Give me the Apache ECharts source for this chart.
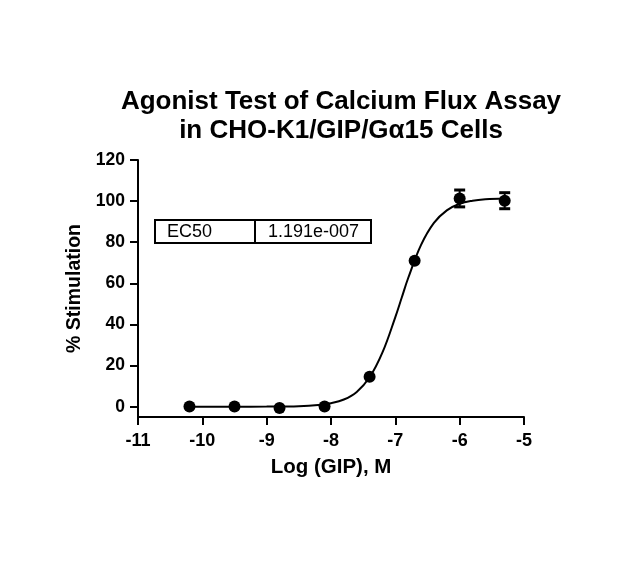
<!DOCTYPE html>
<html>
<head>
<meta charset="utf-8">
<script src="https://cdn.jsdelivr.net/npm/echarts@6/dist/echarts.min.js"></script>
<style>html,body{margin:0;padding:0;background:#fff}#c{width:639px;height:572px}</style>
</head>
<body>
<div id="c"></div>
<script>
var logDose = [-10.2, -9.5, -8.8, -8.1, -7.4, -6.7, -6.0, -5.3];
var stimulation = [0.1, 0.1, -0.6, 0.1, 14.6, 71.0, 101.3, 100.2];
var errors = [0, 0, 0, 0, 0, 0, 4.1, 3.9];
var curveX = [-10.2, -9.5, -9.0, -8.5, -8.2, -8.0, -7.8, -7.6, -7.4, -7.2, -7.0, -6.9, -6.8, -6.6, -6.4, -6.2, -6.0, -5.8, -5.6, -5.3];
var curveY = [0.0, 0.0, 0.05, 0.25, 0.8, 1.7, 3.5, 7.2, 14.3, 26.4, 43.6, 53.1, 62.6, 78.7, 89.4, 95.5, 98.7, 100.2, 100.9, 101.3];
var yTicks = [0, 20, 40, 60, 80, 100, 120];
var ec50Label = 'EC50';
var ec50Value = '1.191e-007';

var chart = echarts.init(document.getElementById('c'));
var font = '"Liberation Sans", Arial, sans-serif';
var pts = logDose.map(function (x, i) { return [x, stimulation[i]]; });
var errData = logDose.map(function (x, i) { return [x, stimulation[i], errors[i]]; }).filter(function (d) { return d[2] > 0; });
var curve = curveX.map(function (x, i) { return [x, curveY[i]]; });

chart.setOption({
  animation: false,
  backgroundColor: '#fff',
  title: {
    text: 'Agonist Test of Calcium Flux Assay\nin CHO-K1/GIP/G\u03b115 Cells',
    left: 336, top: 82, textAlign: 'center',
    textStyle: { fontFamily: font, fontWeight: 'bold', fontSize: 26, lineHeight: 29, color: '#000' }
  },
  grid: { left: 138, right: 115, top: 160, bottom: 155, containLabel: false },
  xAxis: {
    type: 'value', min: -11, max: -5, interval: 1,
    name: 'Log (GIP), M', nameLocation: 'middle', nameGap: 40,
    nameTextStyle: { fontFamily: font, fontWeight: 'bold', fontSize: 20.5, color: '#000' },
    axisLine: { onZero: false, lineStyle: { color: '#000', width: 2 } },
    axisTick: { length: 8, lineStyle: { color: '#000', width: 2 } },
    axisLabel: { fontFamily: font, fontWeight: 'bold', fontSize: 18, color: '#000', margin: 15 },
    splitLine: { show: false }
  },
  yAxis: {
    type: 'value', min: -5, max: 120,
    name: '% Stimulation', nameLocation: 'middle', nameGap: 52, nameRotate: 90,
    nameTextStyle: { fontFamily: font, fontWeight: 'bold', fontSize: 19.5, color: '#000' },
    axisLine: { onZero: false, lineStyle: { color: '#000', width: 2 } },
    axisTick: { length: 8, customValues: yTicks, lineStyle: { color: '#000', width: 2 } },
    axisLabel: { fontFamily: font, fontWeight: 'bold', fontSize: 17.5, color: '#000', margin: 13, customValues: yTicks },
    splitLine: { show: false }
  },
  series: [
    {
      type: 'line', data: curve, smooth: 0.4, showSymbol: false, symbol: 'none',
      lineStyle: { color: '#000', width: 2 }, z: 2
    },
    {
      type: 'scatter', data: pts, symbol: 'circle', symbolSize: 12,
      itemStyle: { color: '#000', opacity: 1 }, emphasis: { disabled: true }, z: 3
    },
    {
      type: 'custom', data: errData, z: 4,
      renderItem: function (params, api) {
        var x = api.value(0), y = api.value(1), e = api.value(2);
        var top = api.coord([x, y + e]);
        var bot = api.coord([x, y - e]);
        var hw = 5.5;
        return {
          type: 'group',
          children: [
            { type: 'line', shape: { x1: top[0], y1: top[1], x2: bot[0], y2: bot[1] }, style: { stroke: '#000', lineWidth: 2 } },
            { type: 'line', shape: { x1: top[0] - hw, y1: top[1], x2: top[0] + hw, y2: top[1] }, style: { stroke: '#000', lineWidth: 3 } },
            { type: 'line', shape: { x1: bot[0] - hw, y1: bot[1], x2: bot[0] + hw, y2: bot[1] }, style: { stroke: '#000', lineWidth: 3 } }
          ]
        };
      }
    }
  ],
  graphic: [
    { type: 'rect', shape: { x: 155, y: 220, width: 216, height: 23 }, style: { fill: '#fff', stroke: '#000', lineWidth: 2 }, z: 10 },
    { type: 'line', shape: { x1: 255, y1: 220, x2: 255, y2: 243 }, style: { stroke: '#000', lineWidth: 2 }, z: 11 },
    { type: 'text', x: 167, y: 232, style: { text: ec50Label, font: '18px ' + font, fill: '#000', verticalAlign: 'middle' }, z: 11 },
    { type: 'text', x: 268, y: 232, style: { text: ec50Value, font: '18px ' + font, fill: '#000', verticalAlign: 'middle' }, z: 11 }
  ]
});
</script>
</body>
</html>
